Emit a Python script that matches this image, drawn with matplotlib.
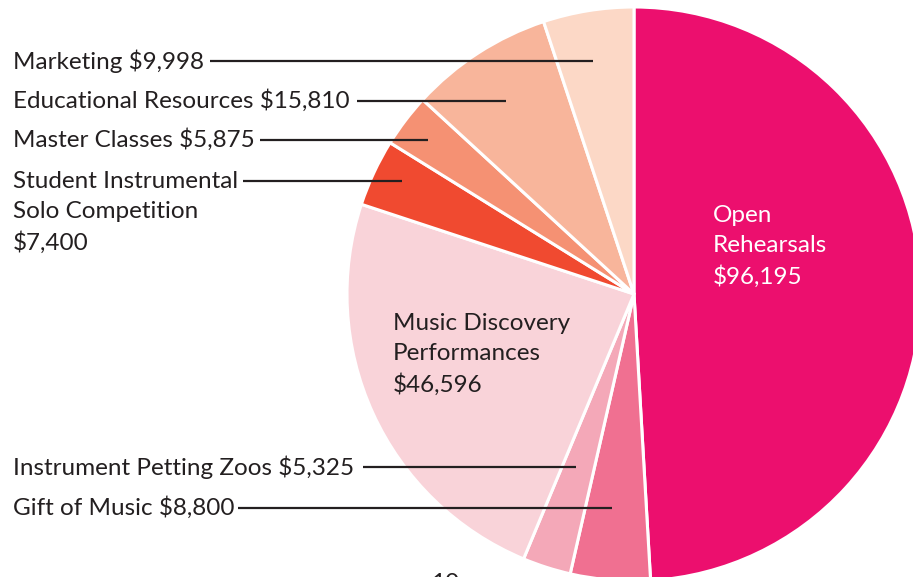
import matplotlib.pyplot as plt

plt.rcParams['font.family'] = ['Lato', 'DejaVu Sans']

# budget items, clockwise from the top of the pie
labels = ['Open Rehearsals', 'Gift of Music', 'Instrument Petting Zoos',
          'Music Discovery Performances', 'Student Instrumental Solo Competition',
          'Master Classes', 'Educational Resources', 'Marketing']
amounts = [96195, 8800, 5325, 46596, 7400, 5875, 15810, 9998]
colors = ['#ec0f6e', '#f07091', '#f4a8b8', '#f9d3d9',
          '#f04a30', '#f59173', '#f8b59b', '#fcd8c6']

W, H = 913, 577
fig = plt.figure(figsize=(W / 100, H / 100), dpi=100)
ax = fig.add_axes([0, 0, 1, 1])

cx, cy, r = 634, H - 294, 287
ax.pie(amounts, colors=colors, startangle=90, counterclock=False,
       center=(cx, cy), radius=r, frame=True,
       wedgeprops=dict(edgecolor='white', linewidth=2.2))
ax.set_xlim(0, W)
ax.set_ylim(0, H)
ax.set_aspect('equal')
ax.axis('off')

ink = '#231f20'
fs = 17.5

def py(y):
    return H - y

# callouts on the left: (text, y of first line, line start, line end)
callouts = [
    ('Marketing $9,998', 61, 210, 593),
    ('Educational Resources $15,810', 101, 357, 506),
    ('Master Classes $5,875', 140, 260, 428),
    ('Student Instrumental', 181, 243, 402),
    ('Instrument Petting Zoos $5,325', 467, 363, 576),
    ('Gift of Music $8,800', 508, 238, 612),
]
for txt, y, x0, x1 in callouts:
    ax.text(13, py(y), txt, fontsize=fs, color=ink, va='center', ha='left')
    ax.plot([x0, x1], [py(y), py(y)], color=ink, lw=1.6, solid_capstyle='butt')

ax.text(13, py(212), 'Solo Competition', fontsize=fs, color=ink, va='center')
ax.text(13, py(243), '$7,400', fontsize=fs, color=ink, va='center')

for i, t in enumerate(['Music Discovery', 'Performances', '$46,596']):
    ax.text(393, py(323 + 31 * i), t, fontsize=fs, color=ink, va='center')

for i, t in enumerate(['Open', 'Rehearsals', '$96,195']):
    ax.text(713, py(215 + 31 * i), t, fontsize=fs, color='white', va='center')

# page number, cut off by the bottom edge
ax.text(445, py(573), '10', fontsize=fs, color=ink, va='top', ha='center')

fig.savefig('out.png', dpi=100)
